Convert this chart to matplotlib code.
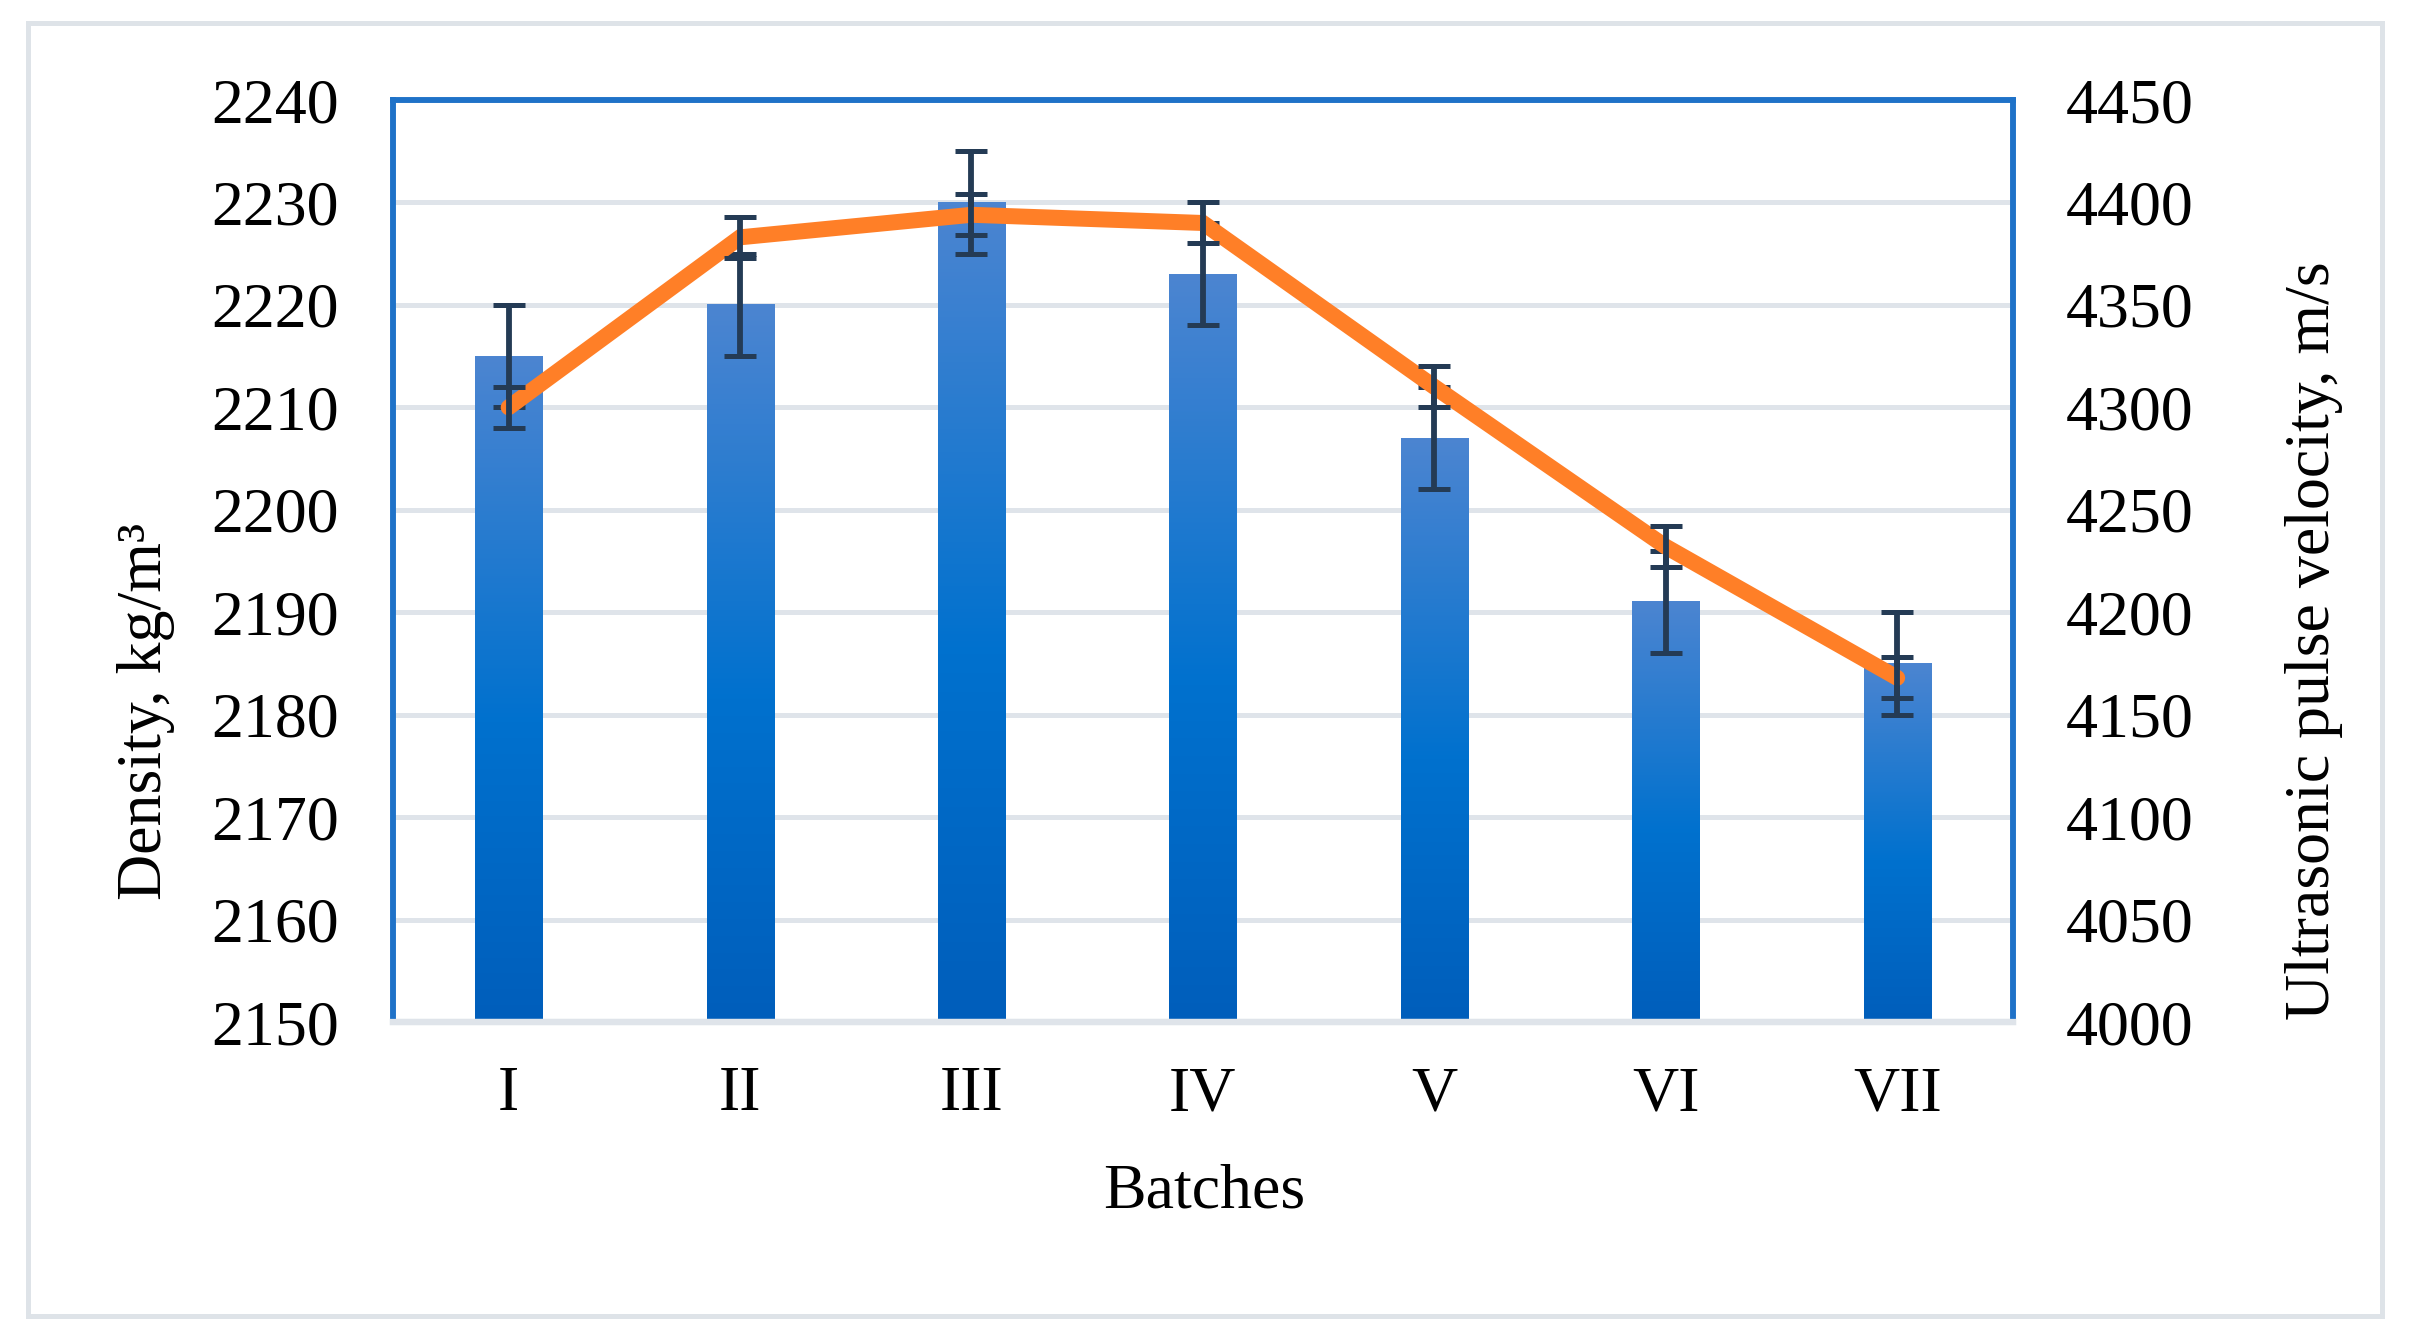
import numpy as np
import matplotlib.pyplot as plt
from matplotlib.colors import LinearSegmentedColormap
from matplotlib.patches import Rectangle

batches = ["I", "II", "III", "IV", "V", "VI", "VII"]
density = [2215, 2220, 2230, 2223, 2207, 2191, 2185]
density_err = [5, 5, 5, 5, 5, 5, 5]
velocity = [4300, 4383, 4394, 4390, 4310, 4232, 4168]
velocity_err = [10, 10, 10, 10, 10, 10, 10]

density_ticks = np.arange(2150, 2241, 10)
velocity_ticks = np.arange(4000, 4451, 50)

plt.rcParams['font.family'] = ['Liberation Serif', 'DejaVu Serif']
fs = 46

fig = plt.figure(figsize=(24.15, 13.43), dpi=100)
# outer light frame
fig.patches.append(Rectangle((28 / 2415, 1 - 1316 / 1343), (2382 - 28) / 2415, (1316 - 23) / 1343,
                             transform=fig.transFigure, fill=False, edgecolor='#DEE3E8', lw=3.6))

ax = fig.add_axes([0.1627, 0.239, 0.8335 - 0.1627, 0.9255 - 0.239])
ax2 = ax.twinx()

x = np.arange(len(batches))
bars = ax.bar(x, [d - 2150 for d in density], width=0.29, bottom=2150,
              facecolor='none', edgecolor='none', zorder=2)

cmap = LinearSegmentedColormap.from_list('barblue', [(0, '#4C85D1'), (0.55, '#0071CE'), (1, '#005EBB')])
grad = np.linspace(0, 1, 256).reshape(-1, 1)
for b in bars:
    ax.imshow(grad, cmap=cmap, aspect='auto', origin='upper', zorder=2,
              extent=[b.get_x(), b.get_x() + b.get_width(), b.get_y(), b.get_y() + b.get_height()])

ax.errorbar(x, density, yerr=density_err, fmt='none', ecolor='#243B55',
            elinewidth=4.2, capsize=11.5, capthick=3.6, zorder=3)

ax2.plot(x, velocity, color='#FF7F27', lw=11.5, solid_capstyle='round', solid_joinstyle='miter', zorder=3)
ax2.errorbar(x, velocity, yerr=velocity_err, fmt='none', ecolor='#243B55',
             elinewidth=4.2, capsize=11.5, capthick=3.6, zorder=4)

ax.set_xlim(-0.5, len(batches) - 0.5)
ax.set_ylim(2150, 2240)
ax2.set_ylim(4000, 4450)
ax.set_yticks(density_ticks)
ax2.set_yticks(velocity_ticks)
ax.set_xticks(x)
ax.set_xticklabels(batches)

ax.set_axisbelow(True)
ax.yaxis.grid(True, color='#DFE4EA', lw=3.6, zorder=0)
ax.xaxis.grid(False)

for a in (ax, ax2):
    for s in ('left', 'right', 'top'):
        a.spines[s].set_color('#1F72C8')
        a.spines[s].set_linewidth(4)
    a.spines['bottom'].set_color('#DFE4EA')
    a.spines['bottom'].set_linewidth(4.5)

ax.tick_params(axis='y', length=0, pad=39, labelsize=fs)
ax2.tick_params(axis='y', length=0, pad=38, labelsize=fs)
ax.tick_params(axis='x', length=0, pad=32, labelsize=fs)

fig.text(0.0605, 0.47, "Density, kg/m\u00b3", rotation=90, fontsize=fs, ha='center', va='center')
fig.text(0.958, 0.523, "Ultrasonic pulse velocity, m/s", rotation=90, fontsize=fs, ha='center', va='center')
fig.text(0.4986, 0.112, "Batches", fontsize=fs, ha='center', va='center')

fig.savefig("out.png", dpi=100)
